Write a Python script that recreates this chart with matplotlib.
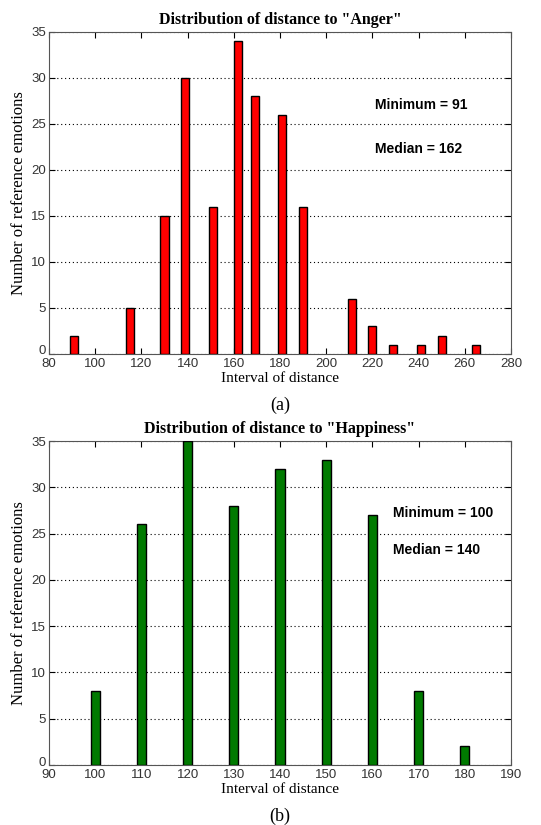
import numpy as np
import matplotlib
matplotlib.use("Agg")
import matplotlib.pyplot as plt
import matplotlib.transforms as mtransforms

# (a) Anger
anger_x = [91, 115, 130, 139, 151, 162, 169, 181, 190, 211, 220, 229, 241, 250, 265]
anger_y = [2, 5, 15, 30, 16, 34, 28, 26, 16, 6, 3, 1, 1, 2, 1]
anger_xticks = [80, 100, 120, 140, 160, 180, 200, 220, 240, 260, 280]

# (b) Happiness
happy_x = [100, 110, 120, 130, 140, 150, 160, 170, 180]
happy_y = [8, 26, 35, 28, 32, 33, 27, 8, 2]
happy_xticks = [90, 100, 110, 120, 130, 140, 150, 160, 170, 180, 190]

yticks = [0, 5, 10, 15, 20, 25, 30, 35]

W, H = 541, 825
fig = plt.figure(figsize=(W / 100, H / 100), dpi=100)

serif = ["Liberation Serif", "DejaVu Serif"]
sans = ["Liberation Sans", "DejaVu Sans"]


def panel(rect, xs, ys, color, width, xticks, title, label, mn, md, txt_x, txt_y):
    ax = fig.add_axes(rect)
    ax.bar(xs, ys, width=width, color=color, edgecolor="black", linewidth=1.0, zorder=3)
    ax.set_xlim(xticks[0], xticks[-1])
    ax.set_ylim(0, 35)
    ax.set_xticks(xticks)
    ax.set_yticks(yticks)
    ax.yaxis.grid(True, linestyle=(0, (1, 2.5)), color="black", linewidth=0.8)
    ax.set_axisbelow(True)
    ax.tick_params(direction="in", top=True, right=True, length=4, labelsize=9.5,
                   labelcolor="#333333", pad=2)
    ax.tick_params(axis="x", pad=3)
    for t in ax.get_xticklabels() + ax.get_yticklabels():
        t.set_family(sans)
    # lift the "0" label a little so it clears the first x label
    lab0 = ax.get_yticklabels()[0]
    lab0.set_transform(lab0.get_transform() +
                       mtransforms.ScaledTranslation(0, 4 / 100, fig.dpi_scale_trans))
    for s in ax.spines.values():
        s.set_linewidth(0.8)
        s.set_color("#555555")
    ax.set_title(title, family=serif, fontweight="bold", fontsize=11.5, pad=6)
    ax.set_xlabel("Interval of distance", family=serif, fontsize=11, labelpad=1)
    ax.set_ylabel("Number of reference emotions", family=serif, fontsize=12, labelpad=3)
    ax.text(txt_x, txt_y[0], "Minimum = %d" % mn, family=sans, fontsize=10,
            fontweight="bold", va="center")
    ax.text(txt_x, txt_y[1], "Median = %d" % md, family=sans, fontsize=10,
            fontweight="bold", va="center")
    ax.text(0.5, -0.16, label, transform=ax.transAxes, ha="center", va="center",
            family=serif, fontsize=13)
    return ax


# axes rects in pixels: left 49, right 511
l = 49 / W
w = (511 - 49) / W
panel([l, 1 - 354 / H, w, (354 - 32) / H], anger_x, anger_y, "#ff0000", 3.5,
      anger_xticks, 'Distribution of distance to "Anger"', "(a)", 91, 162, 221,
      (27.1, 22.3))
panel([l, 1 - 765 / H, w, (765 - 441) / H], happy_x, happy_y, "#007a00", 2.0,
      happy_xticks, 'Distribution of distance to "Happiness"', "(b)", 100, 140, 164.5,
      (27.2, 23.2))

fig.savefig("out.png", dpi=100)
